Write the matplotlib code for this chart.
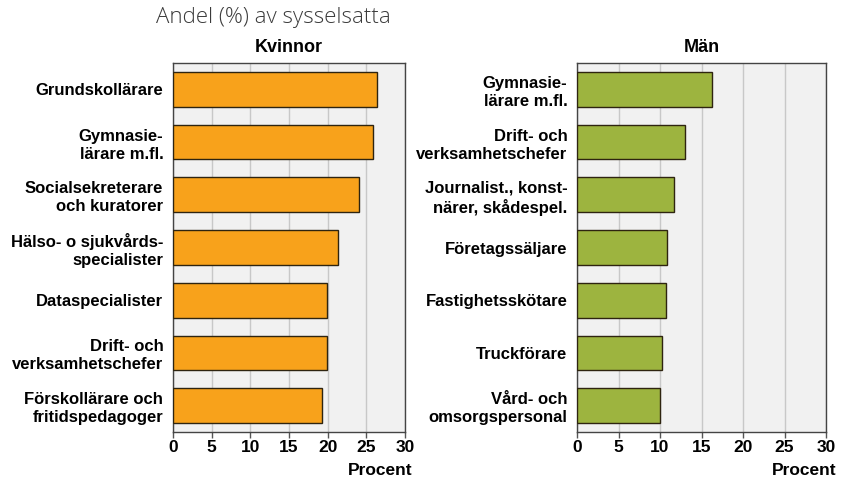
import matplotlib
matplotlib.use("Agg")
import matplotlib.pyplot as plt
from matplotlib.transforms import offset_copy

women_labels = ["Grundskollärare", "Gymnasie-\nlärare m.fl.", "Socialsekreterare\noch kuratorer",
                "Hälso- o sjukvårds-\nspecialister", "Dataspecialister", "Drift- och\nverksamhetschefer",
                "Förskollärare och\nfritidspedagoger"]
women_values = [26.4, 25.9, 24.0, 21.3, 19.9, 19.9, 19.3]

men_labels = ["Gymnasie-\nlärare m.fl.", "Drift- och\nverksamhetschefer", "Journalist., konst-\nnärer, skådespel.",
              "Företagssäljare", "Fastighetsskötare", "Truckförare", "Vård- och\nomsorgspersonal"]
men_values = [16.3, 13.0, 11.7, 10.9, 10.7, 10.2, 10.0]

xticks = [0, 5, 10, 15, 20, 25, 30]

plt.rcParams['font.family'] = ['Liberation Sans', 'DejaVu Sans']

fig = plt.figure(figsize=(8.41, 4.82), dpi=100)
H = 482.0
W = 841.0
ax_l = fig.add_axes([173 / W, 1 - 432 / H, (405 - 173) / W, (432 - 63) / H])
ax_r = fig.add_axes([577 / W, 1 - 432 / H, (826 - 577) / W, (432 - 63) / H])

def draw(ax, labels, values, color, title, procent_dx):
    ax.set_facecolor('#f1f1f1')
    pos = list(range(len(values)))
    ax.barh(pos, values, height=0.66, color=color, edgecolor='#2e2410', linewidth=1.0, zorder=3)
    ax.set_ylim(len(values) - 0.5, -0.5)
    ax.set_xlim(0, 30)
    ax.set_xticks(xticks)
    ax.set_xticklabels([str(t) for t in xticks], fontweight='bold', fontsize=12.5)
    ax.set_yticks(pos)
    ax.set_yticklabels(labels, fontweight='bold', fontsize=12, ha='right', linespacing=1.25)
    ax.tick_params(axis='y', length=0, pad=7)
    ax.tick_params(axis='x', length=4, width=1, color='#555555', direction='out', pad=2)
    ax.grid(axis='x', color='#c8c8c8', linewidth=1, zorder=1)
    for s in ax.spines.values():
        s.set_color('#444444')
        s.set_linewidth(1)
    ax.set_title(title, fontweight='bold', fontsize=13, pad=8)
    tr = offset_copy(ax.transAxes, fig=fig, x=procent_dx, y=0, units='points')
    ax.text(1.0, -0.085, "Procent", transform=tr, ha='right', va='top',
            fontweight='bold', fontsize=12.5)

draw(ax_l, women_labels, women_values, '#f8a21b', 'Kvinnor', 5.5)
draw(ax_r, men_labels, men_values, '#9db43f', 'Män', 7.5)

fig.text(156 / W, 1 - 17 / H, "Andel (%) av sysselsatta", ha='left', va='center',
         fontsize=16, color='#3a3a3a', family=['Open Sans', 'DejaVu Sans'], fontweight='light')

fig.savefig("out.png", dpi=100)
